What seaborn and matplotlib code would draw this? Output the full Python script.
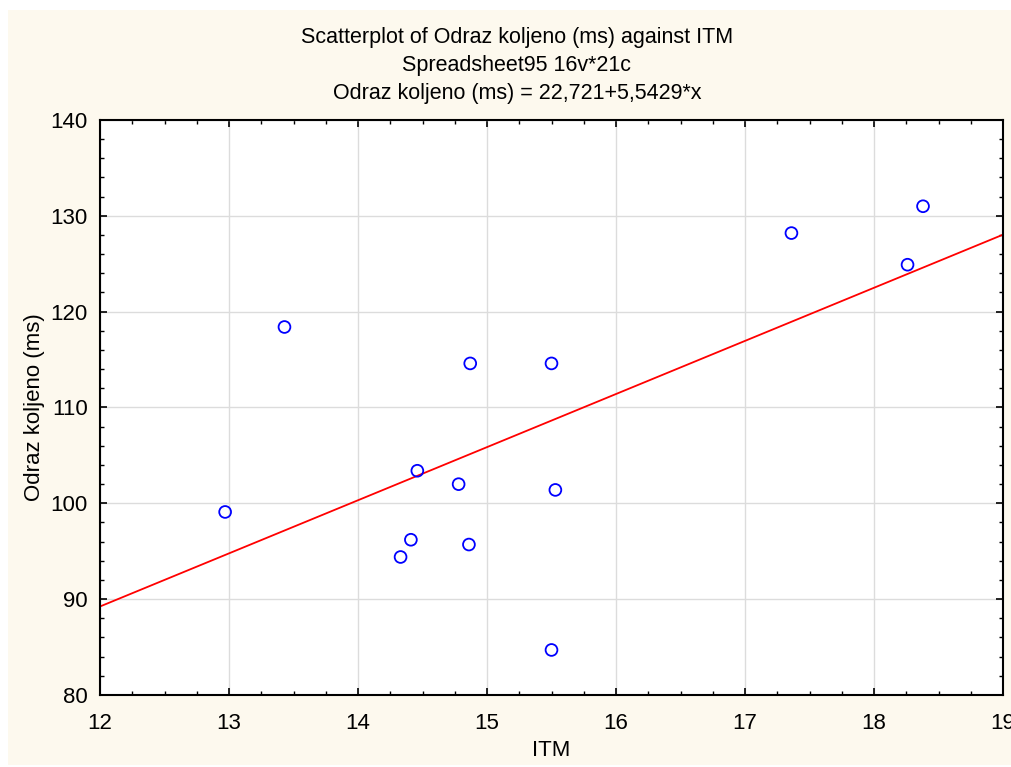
import numpy as np
import pandas as pd
import matplotlib.pyplot as plt
import seaborn as sns
from matplotlib.patches import Rectangle
from matplotlib.ticker import MultipleLocator

# ITM vs Odraz koljeno (ms)
itm = [12.97, 13.43, 14.33, 14.41, 14.46, 14.78, 14.87, 14.86, 15.50, 15.53, 15.50, 17.36, 18.26, 18.38]
odraz = [99.1, 118.4, 94.4, 96.2, 103.4, 102.0, 114.6, 95.7, 114.6, 101.4, 84.7, 128.2, 124.9, 131.0]

# regression from the chart header
intercept = 22.721
slope = 5.5429
x_range = [12, 19]

title_lines = ['Scatterplot of Odraz koljeno (ms) against ITM',
               'Spreadsheet95 16v*21c',
               'Odraz koljeno (ms) = 22,721+5,5429*x']

df = pd.DataFrame({'ITM': itm, 'Odraz koljeno (ms)': odraz})
line_df = pd.DataFrame({'x': x_range, 'y': [intercept + slope * v for v in x_range]})

sns.set_style('white')
plt.rcParams['font.family'] = ['Liberation Sans', 'DejaVu Sans']
plt.rcParams['text.color'] = 'black'
plt.rcParams['axes.labelcolor'] = 'black'
plt.rcParams['xtick.color'] = 'black'
plt.rcParams['ytick.color'] = 'black'

fig = plt.figure(figsize=(10.11, 7.67), dpi=100, facecolor='white')
# cream panel behind everything
fig.patches.append(Rectangle((8 / 1011, 2 / 767), 1 - 8 / 1011, 1 - 12 / 767,
                             transform=fig.transFigure, facecolor='#fdf9ee',
                             edgecolor='none', zorder=-10))

ax = fig.add_axes([100 / 1011, 1 - 695 / 767, 903 / 1011, 575 / 767])
ax.set_facecolor('white')

sns.lineplot(data=line_df, x='x', y='y', color='red', linewidth=1.3, ax=ax, zorder=2)
sns.scatterplot(data=df, x='ITM', y='Odraz koljeno (ms)', ax=ax, s=72,
                facecolors='none', edgecolor='blue', linewidth=1.3, zorder=3)

ax.set_xlim(12, 19)
ax.set_ylim(80, 140)
ax.xaxis.set_major_locator(MultipleLocator(1))
ax.xaxis.set_minor_locator(MultipleLocator(0.25))
ax.yaxis.set_major_locator(MultipleLocator(10))
ax.yaxis.set_minor_locator(MultipleLocator(2))
ax.grid(True, which='major', color='#dcdcdc', linewidth=1)
ax.set_axisbelow(True)

for sp in ax.spines.values():
    sp.set_visible(True)
    sp.set_color('black')
    sp.set_linewidth(1.5)

ax.tick_params(which='both', direction='in', top=True, right=True,
               bottom=True, left=True, color='black')
ax.tick_params(which='major', length=5, width=1.2, labelsize=16, pad=9)
ax.tick_params(which='minor', length=3, width=1)
ax.tick_params(axis='x', which='major', pad=13)

ax.set_xlabel('ITM', fontsize=16, labelpad=4)
ax.set_ylabel('Odraz koljeno (ms)', fontsize=16, labelpad=4)

for i, t in enumerate(title_lines):
    fig.text(517 / 1011, 1 - (37 + 28.5 * i) / 767, t, ha='center', va='center', fontsize=15.5)

fig.savefig('out.png', dpi=100, facecolor='white')
